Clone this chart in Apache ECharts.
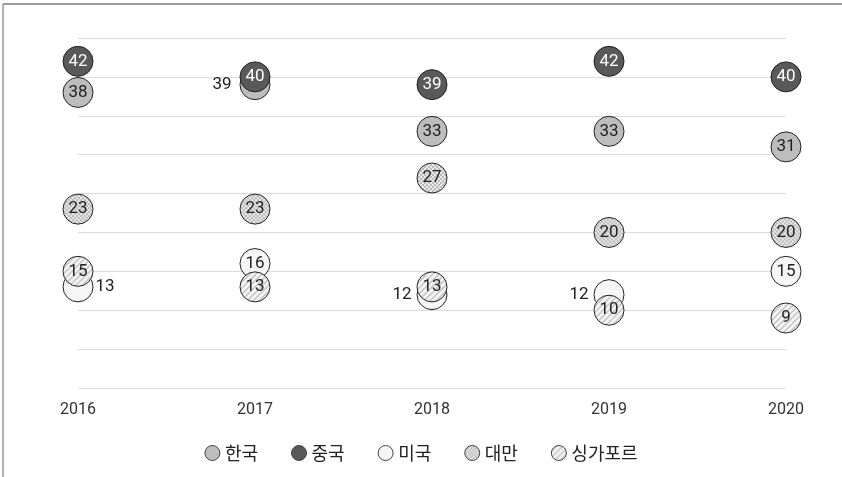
<!DOCTYPE html>
<html>
<head>
<meta charset="utf-8">
<script src="https://cdn.jsdelivr.net/npm/echarts@6/dist/echarts.min.js"></script>
<style>html,body{margin:0;padding:0;background:#fff;}#c{width:842px;height:477px;}</style>
</head>
<body>
<div id="c"></div>
<script>
const years = ['2016', '2017', '2018', '2019', '2020'];
const seriesNames = ['한국', '중국', '미국', '대만', '싱가포르'];
const korea = [38, 39, 33, 33, 31];
const china = [42, 40, 39, 42, 40];
const usa = [13, 16, 12, 12, 15];
const taiwan = [23, 23, 27, 20, 20];
const singapore = [15, 13, 13, 10, 9];

const SYM = 30;

function patternCanvas(kind) {
  const c = document.createElement('canvas');
  const s = kind === 'cross' ? 4 : 6;
  c.width = s; c.height = s;
  const g = c.getContext('2d');
  if (kind === 'cross') {
    g.fillStyle = '#e8e8e8'; g.fillRect(0, 0, s, s);
    g.fillStyle = '#bcbcbc';
    g.fillRect(0, 0, 2, 2); g.fillRect(2, 2, 2, 2);
  } else {
    g.fillStyle = '#f6f6f6'; g.fillRect(0, 0, s, s);
    g.strokeStyle = '#c2c2c2'; g.lineWidth = 1.5;
    g.beginPath();
    g.moveTo(-1, s + 1); g.lineTo(s + 1, -1);
    g.moveTo(-s - 1, s + 1); g.lineTo(1, -1);
    g.moveTo(s - 1, s + 1); g.lineTo(2 * s + 1, -1);
    g.stroke();
  }
  return c;
}
function pattern(kind, scale) {
  const p = { image: patternCanvas(kind), repeat: 'repeat' };
  if (scale) { p.scaleX = scale; p.scaleY = scale; }
  return p;
}

const styles = [
  { color: '#bdbdbd', legend: '#bdbdbd', label: '#222' },
  { color: '#595959', legend: '#595959', label: '#fff' },
  { color: '#f6f6f6', legend: '#f6f6f6', label: '#222' },
  { color: pattern('cross', 2 / SYM), legend: pattern('cross'), label: '#222' },
  { color: pattern('stripe', 2 / SYM), legend: pattern('stripe'), label: '#222' }
];
const allData = [korea, china, usa, taiwan, singapore];
// label position overrides: [seriesIndex, pointIndex, position, distance]
const labelOverrides = [[2, 0, 'right', 2], [0, 1, 'left', 8], [2, 2, 'left', 5], [2, 3, 'left', 5]];

const FONT = 'Roboto, "Noto Sans CJK KR", sans-serif';

const series = allData.map((arr, si) => ({
  name: seriesNames[si],
  type: 'scatter',
  symbol: 'circle',
  symbolSize: SYM,
  itemStyle: { color: styles[si].color, borderColor: '#222', borderWidth: 1, opacity: 1 },
  label: {
    show: true, position: 'inside', color: styles[si].label,
    fontSize: 17, fontFamily: FONT
  },
  emphasis: { disabled: true },
  data: arr.map((v, i) => {
    const o = labelOverrides.find(x => x[0] === si && x[1] === i);
    const d = { value: v };
    if (o) d.label = { position: o[2], color: '#222', distance: o[3] };
    return d;
  })
}));

const chart = echarts.init(document.getElementById('c'));
chart.setOption({
  animation: false,
  backgroundColor: '#fff',
  grid: { left: 78, right: 56, top: 38, bottom: 89 },
  xAxis: {
    type: 'category', data: years, boundaryGap: false,
    axisLine: { show: false }, axisTick: { show: false },
    axisLabel: { color: '#333', fontSize: 16, fontFamily: FONT, margin: 14 },
    splitLine: { show: false }
  },
  yAxis: {
    type: 'value', min: 0, max: 45, interval: 5,
    axisLine: { show: false }, axisTick: { show: false },
    axisLabel: { show: false },
    splitLine: { lineStyle: { color: '#dcdcdc', width: 1 } }
  },
  legend: {
    bottom: 10, left: 'center', icon: 'circle', itemWidth: 15, itemHeight: 15,
    itemGap: 33,
    textStyle: { color: '#222', fontSize: 18, fontFamily: '"Noto Sans CJK KR", sans-serif' },
    data: seriesNames.map((n, i) => ({ name: n, itemStyle: { color: styles[i].legend, borderColor: '#444', borderWidth: 1 } }))
  },
  graphic: [
    { type: 'line', shape: { x1: 3, y1: 4, x2: 842, y2: 4 }, style: { stroke: '#9a9a9a', lineWidth: 2 } },
    { type: 'line', shape: { x1: 3, y1: 4, x2: 3, y2: 477 }, style: { stroke: '#9a9a9a', lineWidth: 1.5 } }
  ],
  series: series
});
</script>
</body>
</html>
